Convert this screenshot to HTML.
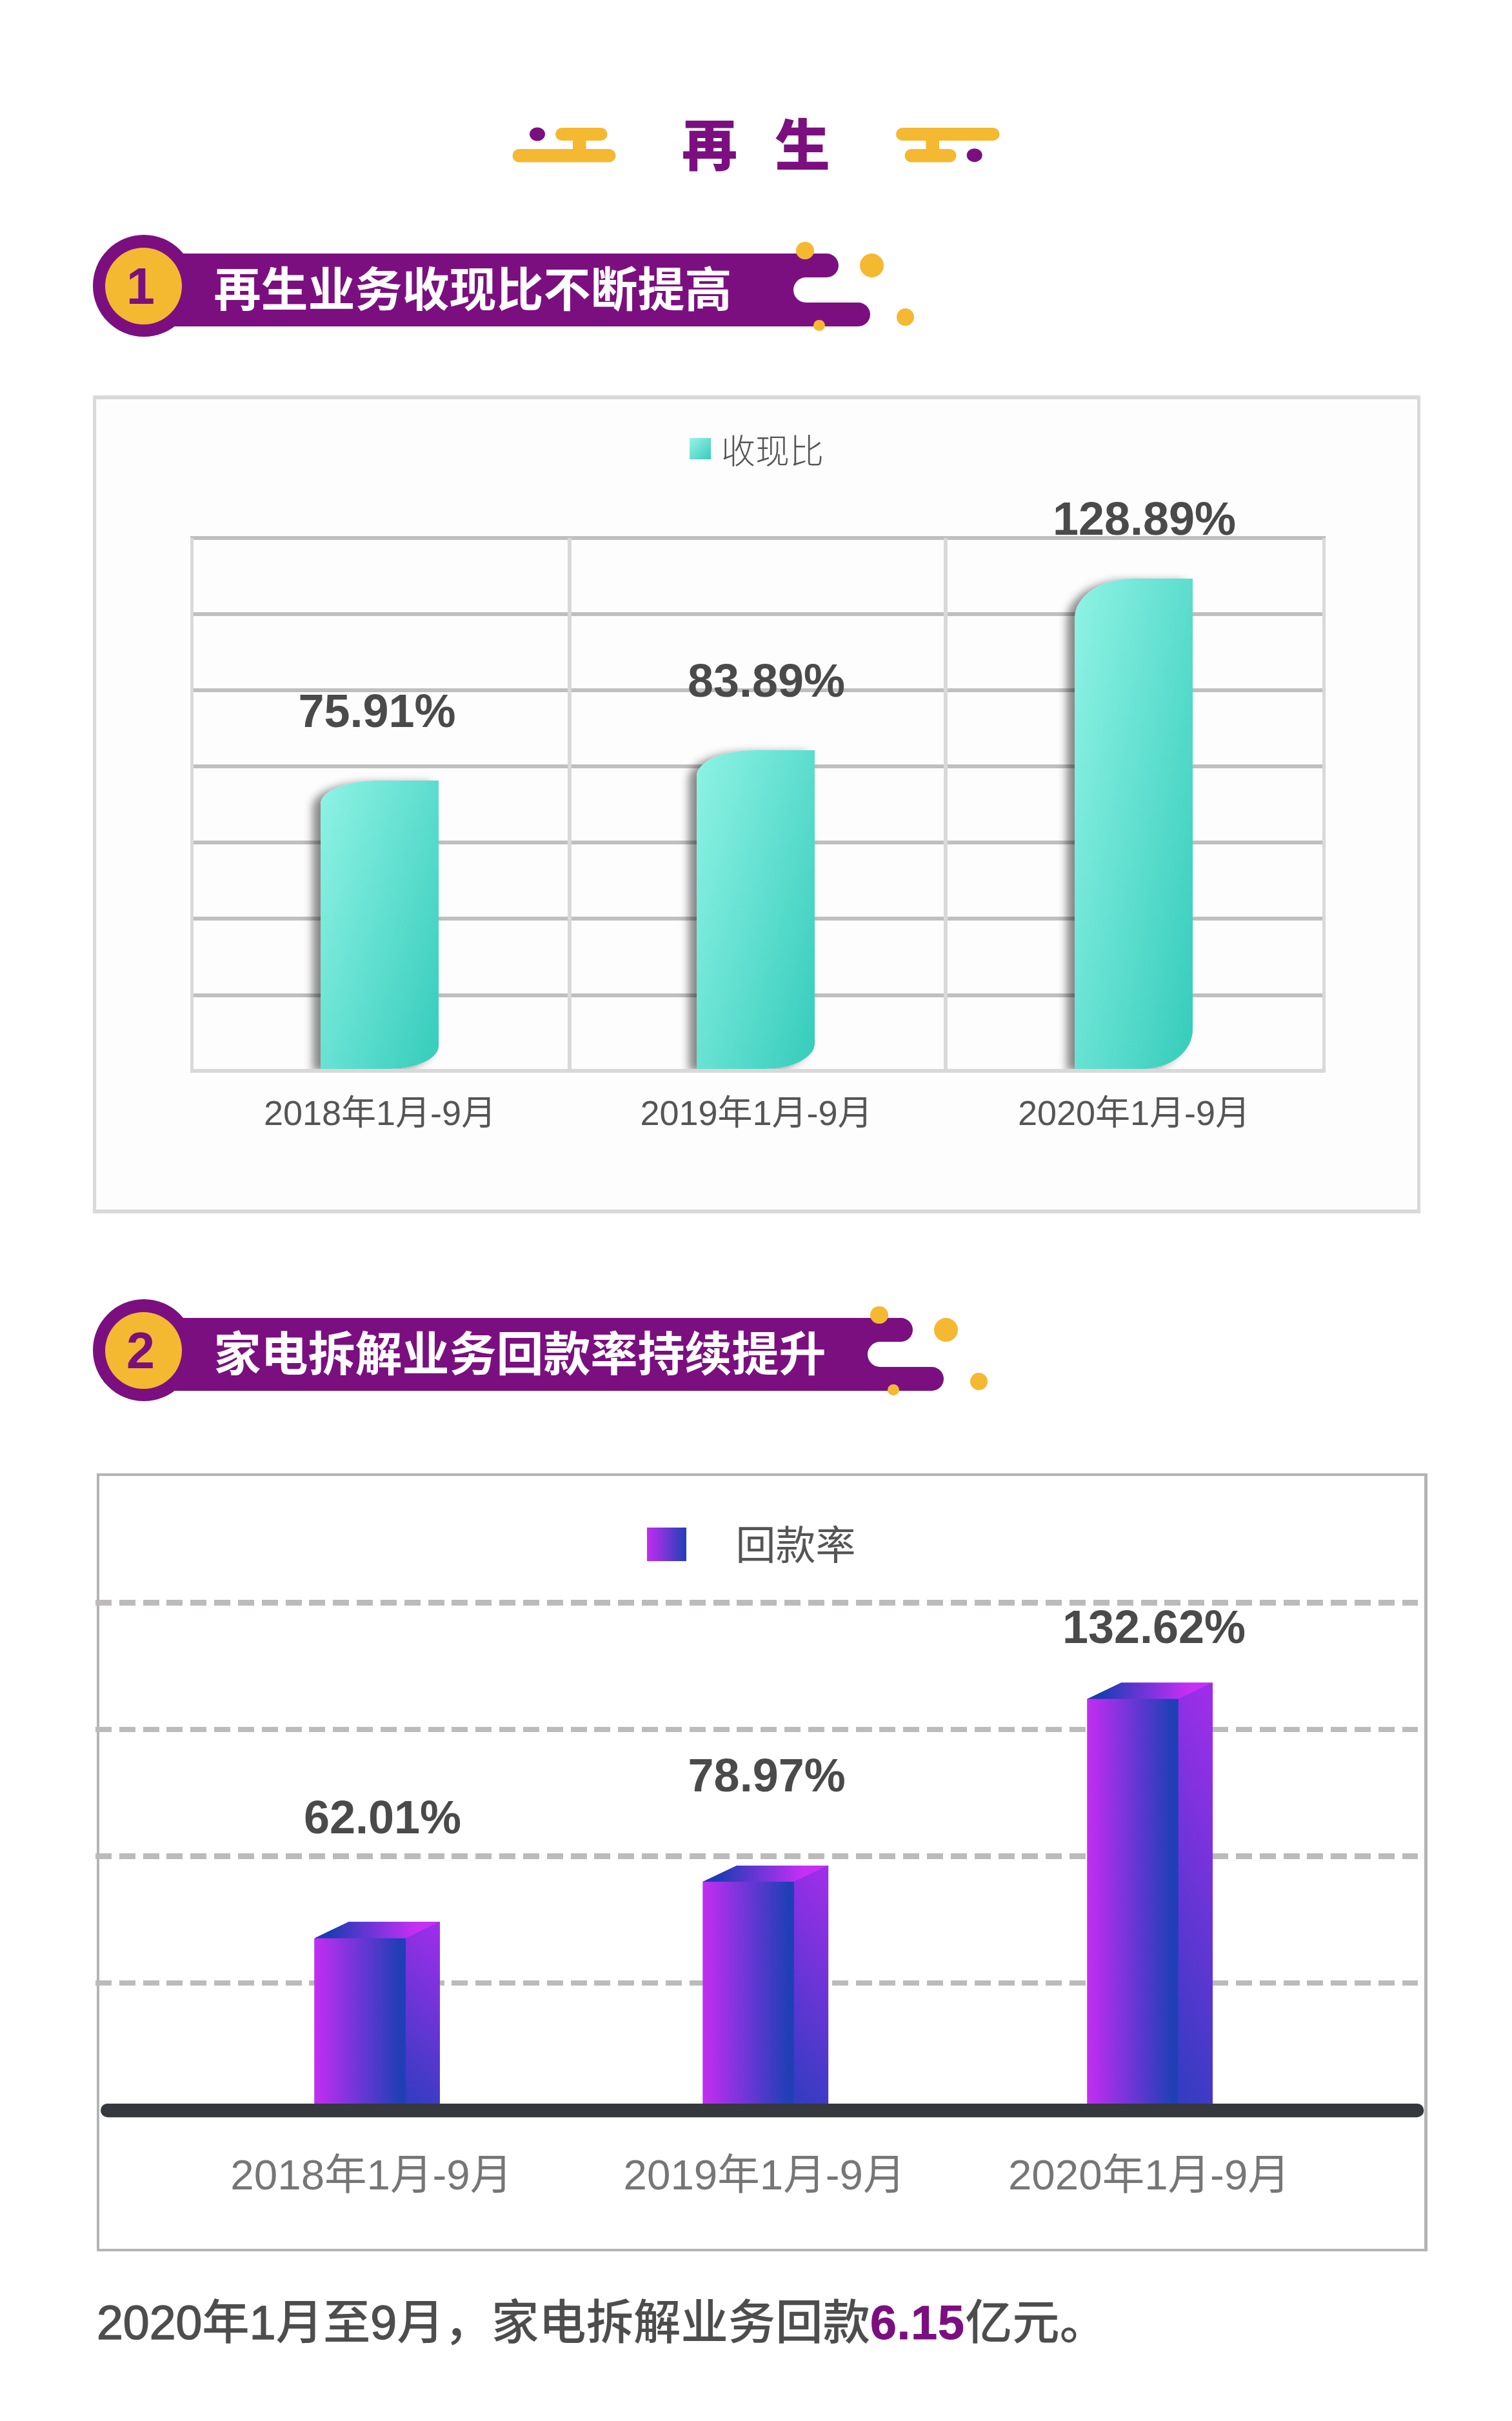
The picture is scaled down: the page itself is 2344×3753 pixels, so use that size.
<!DOCTYPE html>
<html lang="zh-CN">
<head>
<meta charset="utf-8">
<title>再生</title>
<style>
html,body{margin:0;padding:0;background:#fff;}
body{width:2344px;height:3753px;position:relative;overflow:hidden;font-family:"Liberation Sans","Noto Sans CJK SC",sans-serif;}
.abs{position:absolute;}
.t{position:absolute;white-space:nowrap;line-height:1;}
.title{left:1057px;top:184px;font-size:86px;font-weight:900;color:#7b0f80;letter-spacing:58px;}
.hd{position:absolute;left:0;width:2344px;height:180px;}
.hd .bar{position:absolute;left:222px;top:33px;height:113px;background:#7b0f80;}
.hd .tongue1{position:absolute;top:33px;height:37px;border-radius:0 19px 19px 0;background:#7b0f80;}
.hd .tongue2{position:absolute;top:109px;height:37px;border-radius:0 19px 19px 0;background:#7b0f80;}
.hd .notch{position:absolute;top:70px;height:39px;border-radius:20px 0 0 20px;background:#fff;}
.hd .oc{position:absolute;left:144px;top:4px;width:158px;height:158px;border-radius:50%;background:#7b0f80;}
.hd .ic{position:absolute;left:163px;top:24px;width:119px;height:119px;border-radius:50%;background:#f5b831;}
.hd .num{left:158.5px;width:119px;text-align:center;top:44px;font-size:79px;font-weight:bold;color:#7b0f80;}
.hd .txt{left:331.5px;top:53px;font-size:73px;font-weight:bold;color:#fff;}
.dot{position:absolute;border-radius:50%;background:#f5b831;}
.c1{left:144px;top:613px;width:2048px;height:1256px;border:solid #d9d9d9;border-width:6px 5px 6px 5px;background:#fdfdfd;}
.hl{position:absolute;left:295px;width:1760px;height:6px;background:#bfbfbf;}
.vl{position:absolute;top:834px;width:5px;height:826px;background:#d9d9d9;}
.bar1{position:absolute;width:183px;box-shadow:-12px 4px 14px rgba(0,0,0,.47);}
.val{font-weight:bold;color:#4a4a4a;font-size:72px;text-align:center;width:400px;}
.x1{font-size:54px;color:#555;width:500px;text-align:center;}
.x2{font-size:65.5px;color:#767676;width:600px;text-align:center;}
.c2{left:150px;top:2284px;width:2054px;height:1198px;border:solid #b4b4b4;border-width:4px 5px 4px 4px;background:#fff;}
.dash{position:absolute;left:148px;width:2050px;height:8.7px;background:repeating-linear-gradient(90deg,#bcbaba 0,#bcbaba 25px,transparent 25px,transparent 36.83px);}
.foot{left:150px;top:3565px;font-size:73.4px;color:#4d4d4d;font-weight:500;}
.foot .d{-webkit-text-stroke:1.5px #4d4d4d;}
.foot b{color:#7b0f80;letter-spacing:1px;-webkit-text-stroke:1px #7b0f80;}
</style>
</head>
<body>

<!-- title -->
<div class="t title">再生</div>
<svg class="abs" style="left:780px;top:180px" width="800" height="90" viewBox="780 180 800 90">
  <g fill="#f5b831">
    <rect x="861" y="198" width="80.5" height="20" rx="10"/>
    <rect x="888" y="208" width="20.5" height="34"/>
    <rect x="794.5" y="231" width="160" height="20.5" rx="10.2"/>
    <rect x="1389" y="198" width="160.5" height="20" rx="10"/>
    <rect x="1435.5" y="208" width="20.5" height="34"/>
    <rect x="1402.5" y="231" width="80" height="20.5" rx="10.2"/>
  </g>
  <ellipse cx="833" cy="208" rx="12" ry="10.5" fill="#7b0f80"/>
  <ellipse cx="1510.7" cy="240.7" rx="12" ry="10.5" fill="#7b0f80"/>
</svg>

<!-- header 1 -->
<div class="hd" style="top:360px">
  <div class="bar" style="width:1040px"></div>
  <div class="tongue1" style="left:1250px;width:50px"></div>
  <div class="tongue2" style="left:1250px;width:99px"></div>
  <div class="notch" style="left:1230px;width:40px"></div>
  <div class="oc"></div><div class="ic"></div>
  <div class="t num">1</div>
  <div class="t txt">再生业务收现比不断提高</div>
  <div class="dot" style="left:1234px;top:14.8px;width:27.5px;height:27.5px"></div>
  <div class="dot" style="left:1333px;top:33px;width:37px;height:37px"></div>
  <div class="dot" style="left:1389.5px;top:117.8px;width:27.5px;height:27.5px"></div>
  <div class="dot" style="left:1261.3px;top:135.8px;width:17.5px;height:17.5px"></div>
</div>

<!-- chart 1 -->
<div class="abs c1"></div>
<div class="hl" style="top:831px"></div>
<div class="hl" style="top:949px"></div>
<div class="hl" style="top:1067px"></div>
<div class="hl" style="top:1185px"></div>
<div class="hl" style="top:1303px"></div>
<div class="hl" style="top:1421px"></div>
<div class="hl" style="top:1540px"></div>
<div class="vl" style="left:295px"></div>
<div class="vl" style="left:880px;width:6px"></div>
<div class="vl" style="left:1463px;width:6px"></div>
<div class="vl" style="left:2049.5px"></div>
<div class="abs" style="left:295px;top:860px;width:1760px;height:797px;overflow:hidden">
  <div class="bar1" style="background:linear-gradient(107.2deg,#8ff3e5,#35ccbb);left:202px;top:350px;height:447px;border-radius:49% 0 42% 0 / 8.1% 0 8% 0"></div>
  <div class="bar1" style="background:linear-gradient(105.6deg,#8ff3e5,#35ccbb);left:785px;top:303px;height:494px;border-radius:49% 0 42% 0 / 8.1% 0 8% 0"></div>
  <div class="bar1" style="background:linear-gradient(100.3deg,#8ff3e5,#35ccbb);left:1370.7px;top:37px;height:760px;border-radius:49% 0 42% 0 / 8.1% 0 8% 0"></div>
</div>
<div class="hl" style="top:1657px;background:#d9d9d9"></div>
<div class="abs" style="left:1069px;top:679px;width:33px;height:33px;background:linear-gradient(135deg,#9af3e8,#36ccbb)"></div>
<div class="t" style="left:1118px;top:674px;font-size:53px;font-weight:300;color:#555">收现比</div>
<div class="t val" style="left:384.5px;top:1066px">75.91%</div>
<div class="t val" style="left:988px;top:1019px">83.89%</div>
<div class="t val" style="left:1574px;top:768px">128.89%</div>
<div class="t x1" style="left:339px;top:1698px">2018年1月-9月</div>
<div class="t x1" style="left:922.5px;top:1698px">2019年1月-9月</div>
<div class="t x1" style="left:1508px;top:1698px">2020年1月-9月</div>

<!-- header 2 -->
<div class="hd" style="top:2010px">
  <div class="bar" style="width:1155px"></div>
  <div class="tongue1" style="left:1365px;width:50px"></div>
  <div class="tongue2" style="left:1365px;width:98px"></div>
  <div class="notch" style="left:1345px;width:40px"></div>
  <div class="oc"></div><div class="ic"></div>
  <div class="t num">2</div>
  <div class="t txt">家电拆解业务回款率持续提升</div>
  <div class="dot" style="left:1349px;top:14.8px;width:27.5px;height:27.5px"></div>
  <div class="dot" style="left:1448px;top:33px;width:37px;height:37px"></div>
  <div class="dot" style="left:1503.8px;top:117.8px;width:27.5px;height:27.5px"></div>
  <div class="dot" style="left:1376.3px;top:135.8px;width:17.5px;height:17.5px"></div>
</div>

<!-- chart 2 -->
<div class="abs c2"></div>
<div class="dash" style="top:2480.3px"></div>
<div class="dash" style="top:2676.7px"></div>
<div class="dash" style="top:2873.1px"></div>
<div class="dash" style="top:3069.5px"></div>
<svg class="abs" style="left:0;top:2284px" width="2344" height="1210" viewBox="0 2284 2344 1210">
  <defs>
    <linearGradient id="gf" x1="0" y1="0" x2="1" y2="0"><stop offset="0" stop-color="#c42df2"/><stop offset="0.5" stop-color="#6a36d6"/><stop offset="0.93" stop-color="#203fb6"/><stop offset="1" stop-color="#203fb6"/></linearGradient>
    <linearGradient id="gt" x1="0" y1="0" x2="1" y2="0"><stop offset="0.12" stop-color="#1c3cb4"/><stop offset="0.5" stop-color="#7a34dc"/><stop offset="0.8" stop-color="#c62ff4"/></linearGradient>
    <linearGradient id="gs" x1="0.585" y1="0" x2="0.415" y2="1"><stop offset="0" stop-color="#9c2ee9"/><stop offset="1" stop-color="#363cc2"/></linearGradient>
  </defs>
  <g>
    <polygon points="487.5,3004.7 540.5,2979.2 681.8,2979.2 681.8,3262 487.5,3262" fill="#6e34d6"/>
    <polygon points="487.5,3004.7 540.5,2979.2 681.8,2979.2 629,3004.7" fill="url(#gt)"/>
    <polygon points="629,3004.7 681.8,2979.2 681.8,3262 629,3262" fill="url(#gs)"/>
    <polygon points="487.5,3004.7 629,3004.7 629,3262 487.5,3262" fill="url(#gf)"/>
  </g>
  <g>
    <polygon points="1089.6,2917 1142.2,2892 1284.1,2892 1284.1,3262 1089.6,3262" fill="#6e34d6"/>
    <polygon points="1089.6,2917 1142.2,2892 1284.1,2892 1231.1,2917" fill="url(#gt)"/>
    <polygon points="1231.1,2917 1284.1,2892 1284.1,3262 1231.1,3262" fill="url(#gs)"/>
    <polygon points="1089.6,2917 1231.1,2917 1231.1,3262 1089.6,3262" fill="url(#gf)"/>
  </g>
  <g>
    <polygon points="1685.5,2633.8 1738.2,2608.4 1879.9,2608.4 1879.9,3262 1685.5,3262" fill="#6e34d6"/>
    <polygon points="1685.5,2633.8 1738.2,2608.4 1879.9,2608.4 1826.8,2633.8" fill="url(#gt)"/>
    <polygon points="1826.8,2633.8 1879.9,2608.4 1879.9,3262 1826.8,3262" fill="url(#gs)"/>
    <polygon points="1685.5,2633.8 1826.8,2633.8 1826.8,3262 1685.5,3262" fill="url(#gf)"/>
  </g>
  <line x1="166.7" y1="3271.6" x2="2196.8" y2="3271.6" stroke="#35383c" stroke-width="21.2" stroke-linecap="round"/>
</svg>
<div class="abs" style="left:1002.5px;top:2368px;width:61px;height:51.5px;background:linear-gradient(90deg,#c22cf1,#2040b8)"></div>
<div class="t" style="left:1140.5px;top:2366px;font-size:62px;color:#555">回款率</div>
<div class="t val" style="left:393px;top:2781px">62.01%</div>
<div class="t val" style="left:988.7px;top:2716px">78.97%</div>
<div class="t val" style="left:1589px;top:2486px">132.62%</div>
<div class="t x2" style="left:275.8px;top:3339px">2018年1月-9月</div>
<div class="t x2" style="left:885px;top:3339px">2019年1月-9月</div>
<div class="t x2" style="left:1481.4px;top:3339px">2020年1月-9月</div>

<!-- footer -->
<div class="t foot"><span class="d">2020</span>年<span class="d">1</span>月至<span class="d">9</span>月，家电拆解业务回款<b>6.15</b>亿元。</div>

</body>
</html>
